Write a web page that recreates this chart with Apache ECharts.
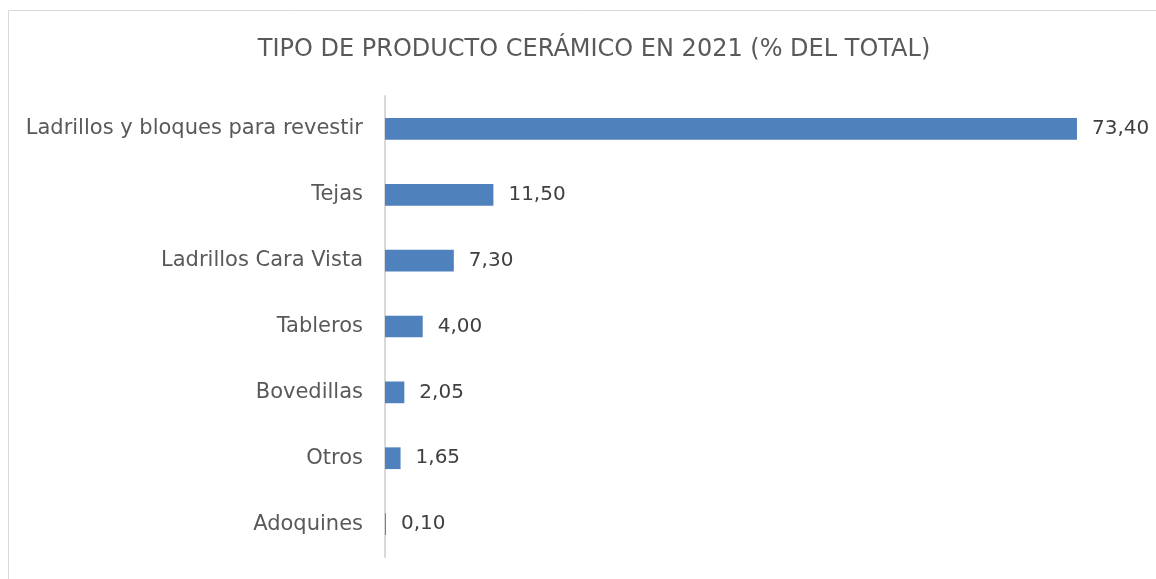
<!DOCTYPE html>
<html><head><meta charset="utf-8">
<script src="https://cdn.jsdelivr.net/npm/echarts@6/dist/echarts.min.js"></script>
<style>html,body{margin:0;padding:0;background:#fff}#c{width:1156px;height:579px}</style>
</head><body><div id="c"></div>
<script>
const title = 'TIPO DE PRODUCTO CERÁMICO EN 2021 (% DEL TOTAL)';
const categories = ['Ladrillos y bloques para revestir','Tejas','Ladrillos Cara Vista','Tableros','Bovedillas','Otros','Adoquines'];
const values = [73.40, 11.50, 7.30, 4.00, 2.05, 1.65, 0.10];

const font = "'DejaVu Sans', sans-serif";
const chart = echarts.init(document.getElementById('c'), null, {renderer:'canvas'});
chart.setOption({
  animation:false,
  backgroundColor:'#fff',
  title:{text:title,left:589,top:33,textAlign:'center',
    textStyle:{fontFamily:font,fontSize:24,fontWeight:'normal',color:'#595959'}},
  graphic:[{type:'rect',shape:{x:8.5,y:10.5,width:1200,height:700},
    style:{fill:'none',stroke:'#d9d9d9',lineWidth:1},silent:true}],
  grid:{left:385,right:16.8,top:96,bottom:22,containLabel:false},
  xAxis:{type:'value',min:0,max:80,show:false},
  yAxis:{type:'category',data:categories,inverse:true,
    axisLine:{show:true,lineStyle:{color:'#d9d9d9',width:2}},
    axisTick:{show:false},
    axisLabel:{margin:22,fontFamily:font,fontSize:21,color:'#595959'}},
  series:[{type:'bar',data:values,barWidth:'33%',
    itemStyle:{color:'#4f81bd'},
    label:{show:true,position:'right',distance:15,fontFamily:font,fontSize:20,color:'#404040',
      formatter:p=>p.value.toFixed(2).replace('.',',')}}]
});
</script></body></html>
